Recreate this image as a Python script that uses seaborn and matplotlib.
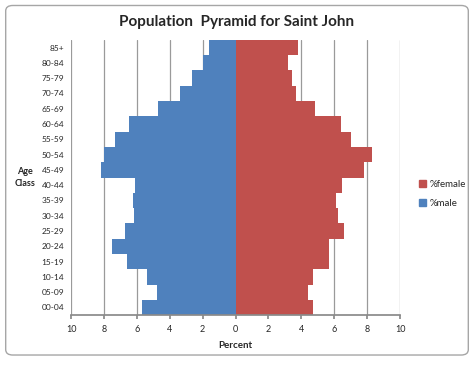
import numpy as np
import pandas as pd
import matplotlib

matplotlib.use("Agg")
import matplotlib.pyplot as plt
from matplotlib.patches import FancyBboxPatch, Patch
from matplotlib.ticker import FuncFormatter
import seaborn as sns

sns.set_theme(style="white")
plt.rcParams["font.family"] = ["Lato", "DejaVu Sans"]

AGE = ["85+", "80-84", "75-79", "70-74", "65-69", "60-64", "55-59", "50-54",
       "45-49", "40-44", "35-39", "30-34", "25-29", "20-24", "15-19",
       "10-14", "05-09", "00-04"]
MALE = [1.6, 2.0, 2.65, 3.4, 4.7, 6.45, 7.35, 8.0, 8.2,
        6.1, 6.25, 6.2, 6.7, 7.5, 6.6, 5.4, 4.8, 5.7]
FEMALE = [3.8, 3.2, 3.4, 3.7, 4.8, 6.4, 7.0, 8.3, 7.8,
          6.45, 6.1, 6.2, 6.6, 5.7, 5.7, 4.7, 4.4, 4.7]

BLUE = "#4F81BD"
RED = "#C0504D"

df = pd.DataFrame({"age": AGE, "male": [-v for v in MALE], "female": FEMALE})

fig = plt.figure(figsize=(4.74, 3.66), dpi=100)
fig.patch.set_facecolor("white")
fig.patches.append(FancyBboxPatch((0.012, 0.03), 0.976, 0.955,
                                  boxstyle="round,pad=0,rounding_size=0.015",
                                  transform=fig.transFigure, fill=False,
                                  edgecolor="#a6a6a6", linewidth=1.0))

ax = fig.add_axes([0.150, 0.139, 0.694, 0.752])
for x in range(-10, 11, 2):
    ax.axvline(x, color="#9a9a9a", linewidth=0.9, zorder=0)

sns.barplot(data=df, x="male", y="age", order=AGE, color=BLUE, width=1.0,
            saturation=1, linewidth=0, edgecolor="none", ax=ax, zorder=2)
sns.barplot(data=df, x="female", y="age", order=AGE, color=RED, width=1.0,
            saturation=1, linewidth=0, edgecolor="none", ax=ax, zorder=2)

ax.set_xlim(-10, 10)
ax.set_xticks(range(-10, 11, 2))
ax.xaxis.set_major_formatter(FuncFormatter(lambda v, p: f"{abs(v):.0f}"))
ax.tick_params(axis="x", labelsize=6.5, length=3, direction="out",
               bottom=True, color="#8a8a8a", pad=4)
ax.tick_params(axis="y", labelsize=6, length=0, pad=5)
for s in ["top", "right", "left"]:
    ax.spines[s].set_visible(False)
ax.spines["bottom"].set_color("#8a8a8a")
ax.set_xlabel("Percent", fontsize=7, fontweight="bold", labelpad=5)
ax.set_ylabel("")
fig.text(0.052, 0.515, "Age\nClass", fontsize=6.5, fontweight="bold",
         ha="center", va="center", linespacing=1.5)

fig.text(0.50, 0.94, "Population  Pyramid for Saint John", fontsize=11,
         fontweight="bold", ha="center", va="center")

handles = [Patch(color=RED, label="%female"), Patch(color=BLUE, label="%male")]
fig.legend(handles=handles, loc="center left", bbox_to_anchor=(0.865, 0.47),
           frameon=False, fontsize=7, handlelength=0.7, handleheight=0.7,
           handletextpad=0.4, labelspacing=1.0)

fig.savefig("out.png", dpi=100)
